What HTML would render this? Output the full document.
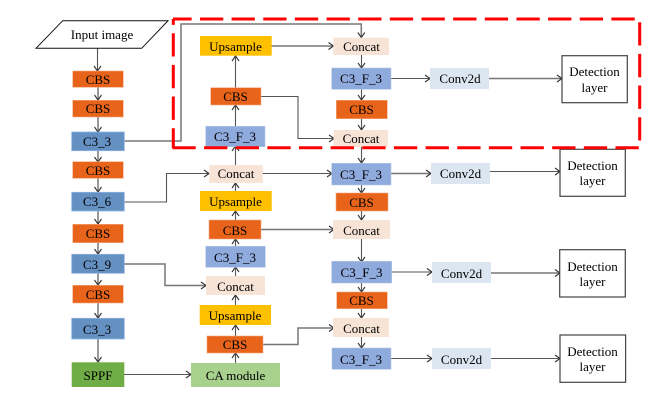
<!DOCTYPE html>
<html>
<head>
<meta charset="utf-8">
<style>
html,body{margin:0;padding:0;background:#fff;width:669px;height:409px;overflow:hidden}
svg{display:block}
text{font-family:"Liberation Serif",serif;font-size:13px;fill:#000;text-anchor:middle}
.l{fill:none;stroke:#555;stroke-width:1.1}
.g{stroke:#777;stroke-width:1.5}
.o{fill:#E7641A;stroke:#F5A97F;stroke-width:.6}
.b{fill:#6490C2;stroke:#8DB3E2;stroke-width:.8}
.f{fill:#8FAADC;stroke:#B4C7E7;stroke-width:.6}
.c{fill:#F8E4D7}
.u{fill:#FFC000}
.v{fill:#DCE6F1}
.d{fill:#fff;stroke:#444;stroke-width:1.2}
.r{fill:none;stroke:#F00;stroke-width:3;stroke-dasharray:23.3 8.35}
</style>
</head>
<body>
<svg width="669" height="409" viewBox="0 0 669 409" xmlns="http://www.w3.org/2000/svg">
<defs>
<marker id="a" markerUnits="userSpaceOnUse" markerWidth="10" markerHeight="10" refX="7.5" refY="5" orient="auto">
<path d="M2.5 1.500L7.500 5L2.500 8.500" fill="none" stroke="#333" stroke-width="1.1"/>
</marker>
</defs>

<!-- connectors -->
<g>
<path class="l" marker-end="url(#a)" d="M97.500 48V71"/>
<path class="l g" marker-end="url(#a)" d="M98 87V100"/>
<path class="l g" marker-end="url(#a)" d="M98 117V132"/>
<path class="l g" marker-end="url(#a)" d="M98 151V162"/>
<path class="l g" marker-end="url(#a)" d="M98 178V192"/>
<path class="l g" marker-end="url(#a)" d="M98 211V224"/>
<path class="l g" marker-end="url(#a)" d="M98 243V254"/>
<path class="l g" marker-end="url(#a)" d="M98 273V285"/>
<path class="l g" marker-end="url(#a)" d="M98 303V318"/>
<path class="l g" marker-end="url(#a)" d="M98 339V362"/>
<path class="l g" marker-end="url(#a)" d="M124 141H181V24H361.300V37.500"/>
<path class="l" marker-end="url(#a)" d="M124 202H166.500V173.500H209"/>
<path class="l g" marker-end="url(#a)" d="M124 264H165V285.500H206"/>
<path class="l" marker-end="url(#a)" d="M124 374.500H191"/>
<path class="l" marker-end="url(#a)" d="M235.500 363V353"/>
<path class="l" marker-end="url(#a)" d="M235.500 336V325"/>
<path class="l" marker-end="url(#a)" d="M235.500 305V295"/>
<path class="l" marker-end="url(#a)" d="M235.500 276V267"/>
<path class="l" marker-end="url(#a)" d="M235.500 246V239"/>
<path class="l" marker-end="url(#a)" d="M235.500 220V211"/>
<path class="l" marker-end="url(#a)" d="M235.500 191V183"/>
<path class="l" marker-end="url(#a)" d="M235.500 165V146"/>
<path class="l" marker-end="url(#a)" d="M235.500 126V105"/>
<path class="l" marker-end="url(#a)" d="M235.500 88V56"/>
<path class="l g" marker-end="url(#a)" d="M271 46H333.500"/>
<path class="l" marker-end="url(#a)" d="M261 96.500H298V138.500H334"/>
<path class="l" marker-end="url(#a)" d="M262 173.500H332"/>
<path class="l g" marker-end="url(#a)" d="M261 229.500H334"/>
<path class="l g" marker-end="url(#a)" d="M263 344.500H298V328H334"/>
<path class="l" marker-end="url(#a)" d="M361.500 55V68"/>
<path class="l" marker-end="url(#a)" d="M361.500 89V100"/>
<path class="l" marker-end="url(#a)" d="M361.500 118V130"/>
<path class="l" marker-end="url(#a)" d="M361.500 147V163"/>
<path class="l" marker-end="url(#a)" d="M361.500 185V193"/>
<path class="l" marker-end="url(#a)" d="M361.500 211V220"/>
<path class="l" marker-end="url(#a)" d="M361.500 239V262"/>
<path class="l" marker-end="url(#a)" d="M361.500 283V292"/>
<path class="l" marker-end="url(#a)" d="M361.500 309V318"/>
<path class="l" marker-end="url(#a)" d="M361.500 337V348"/>
<path class="l" marker-end="url(#a)" d="M391 78.500H430"/>
<path class="l g" marker-end="url(#a)" d="M391 173.500H431"/>
<path class="l" marker-end="url(#a)" d="M391 272H432"/>
<path class="l" marker-end="url(#a)" d="M391 358.500H432"/>
<path class="l g" marker-end="url(#a)" d="M489 78.500H562"/>
<path class="l" marker-end="url(#a)" d="M490 171.500H560"/>
<path class="l g" marker-end="url(#a)" d="M491 273H560"/>
<path class="l" marker-end="url(#a)" d="M491 358.500H560"/>
</g>

<!-- input -->
<path d="M36 48.300L62.700 20.700H168L141.700 48.300Z" fill="#fff" stroke="#111" stroke-width="1"/>
<text x="102" y="39">Input image</text>

<!-- left column -->
<rect class="o" x="72.700" y="71" width="50.600" height="16.300"/><text x="98" y="84">CBS</text>
<rect class="o" x="72.700" y="100.300" width="50.600" height="16.700"/><text x="98" y="113">CBS</text>
<rect class="b" x="71.700" y="132" width="52.600" height="18.700"/><text x="97" y="146">C3_3</text>
<rect class="o" x="72.700" y="161.700" width="50.600" height="16.600"/><text x="98" y="175">CBS</text>
<rect class="b" x="71.700" y="192.300" width="52.600" height="18.700"/><text x="97" y="206">C3_6</text>
<rect class="o" x="72.700" y="224.300" width="50.600" height="18.400"/><text x="98" y="238">CBS</text>
<rect class="b" x="71.700" y="254.300" width="52.600" height="19"/><text x="97" y="269">C3_9</text>
<rect class="o" x="72.700" y="285.300" width="50.600" height="17.700"/><text x="98" y="299">CBS</text>
<rect class="b" x="71.700" y="318.300" width="52.600" height="20.700"/><text x="97" y="334">C3_3</text>
<rect x="71.700" y="362.300" width="52.600" height="24.700" fill="#70AD47"/><text x="98" y="380">SPPF</text>

<!-- middle column -->
<rect class="u" x="200" y="36" width="71.700" height="19.700"/><text x="235.500" y="51">Upsample</text>
<rect class="o" x="210.700" y="87.700" width="50.300" height="17.300"/><text x="235.500" y="101">CBS</text>
<rect class="f" x="205.700" y="126.300" width="59.300" height="20.400"/><text x="235" y="141">C3_F_3</text>
<rect class="c" x="209.300" y="165" width="53.400" height="18"/><text x="236" y="178">Concat</text>
<rect class="u" x="200" y="191" width="71.700" height="20"/><text x="235.500" y="206">Upsample</text>
<rect class="o" x="209" y="220" width="52" height="19"/><text x="235" y="235">CBS</text>
<rect class="f" x="205.700" y="246.300" width="59.600" height="21"/><text x="235" y="262">C3_F_3</text>
<rect class="c" x="206" y="276" width="59" height="19"/><text x="235.500" y="291">Concat</text>
<rect class="u" x="199.700" y="305" width="71.300" height="20"/><text x="235" y="320">Upsample</text>
<rect class="o" x="207" y="336" width="56" height="17"/><text x="235" y="349">CBS</text>
<rect x="191" y="363" width="89" height="24" fill="#A9D18E"/><text x="235.500" y="380">CA module</text>

<!-- right column -->
<rect class="c" x="333.300" y="37.700" width="55.700" height="17.300"/><text x="361.500" y="51">Concat</text>
<rect class="f" x="331.700" y="68" width="59.300" height="21.300"/><text x="361" y="83">C3_F_3</text>
<rect class="o" x="336.300" y="100.300" width="51" height="18.400"/><text x="361.500" y="114">CBS</text>
<rect class="c" x="333.500" y="130" width="54.500" height="17"/><text x="361" y="143">Concat</text>
<rect class="f" x="331.700" y="163.300" width="59.300" height="21.700"/><text x="361" y="179">C3_F_3</text>
<rect class="o" x="336" y="193" width="52" height="18"/><text x="361.500" y="207">CBS</text>
<rect class="c" x="333" y="220" width="57" height="19"/><text x="361.500" y="235">Concat</text>
<rect class="f" x="331.700" y="261.300" width="60" height="21.700"/><text x="361.500" y="277">C3_F_3</text>
<rect class="o" x="336.700" y="292" width="50.600" height="16.700"/><text x="361.500" y="305">CBS</text>
<rect class="c" x="333" y="318" width="56" height="19"/><text x="361.500" y="333">Concat</text>
<rect class="f" x="332" y="348" width="59" height="21.300"/><text x="361" y="364">C3_F_3</text>

<!-- conv2d -->
<rect class="v" x="430" y="68" width="59" height="21"/><text x="460" y="83">Conv2d</text>
<rect class="v" x="431" y="163" width="59" height="21"/><text x="460.500" y="178">Conv2d</text>
<rect class="v" x="432" y="262" width="59" height="21"/><text x="461.500" y="278">Conv2d</text>
<rect class="v" x="432" y="348" width="59" height="21"/><text x="461.500" y="364">Conv2d</text>

<!-- detection -->
<rect class="d" x="562" y="55.700" width="65.300" height="47"/><text x="594.500" y="76">Detection</text><text x="594.500" y="92">layer</text>
<rect class="d" x="560" y="149.300" width="65.300" height="47"/><text x="592.500" y="170">Detection</text><text x="592.500" y="185">layer</text>
<rect class="d" x="559.700" y="249.700" width="65.600" height="47.300"/><text x="592.500" y="271">Detection</text><text x="592.500" y="286">layer</text>
<rect class="d" x="560" y="335" width="65.600" height="47.300"/><text x="592.500" y="356">Detection</text><text x="592.500" y="371">layer</text>

<!-- red dashed region -->
<path class="r" d="M173 19H640" stroke-dashoffset="4.700"/>
<path class="r" d="M639.700 19V148" stroke-dashoffset="28.400"/>
<path class="r" d="M173.300 19V148" stroke-dashoffset="17.400"/>
<path class="r" d="M172.400 147.700H640"/>
</svg>
</body>
</html>
